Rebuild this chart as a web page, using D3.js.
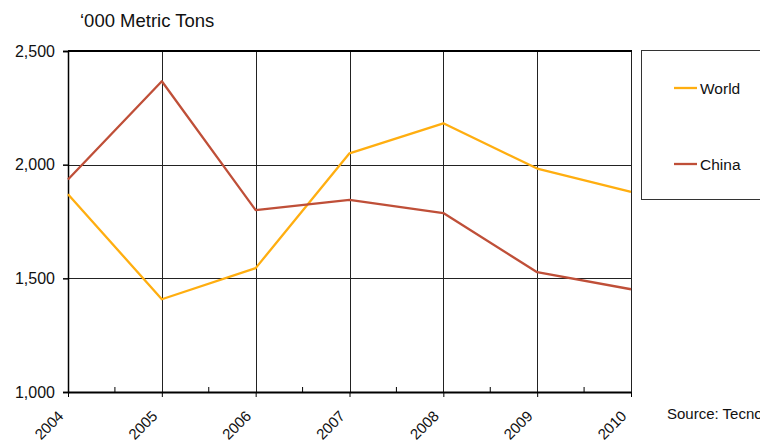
<!DOCTYPE html>
<html>
<head>
<meta charset="utf-8">
<script src="https://cdn.jsdelivr.net/npm/d3@7"></script>
<style>
html,body{margin:0;padding:0;background:#fff;overflow:hidden;}
text{font-family:"Liberation Sans",Arial,sans-serif;fill:#111;}
</style>
</head>
<body>
<svg id="chart" width="760" height="447"></svg>
<script>
const years = [2004, 2005, 2006, 2007, 2008, 2009, 2010];
const world = [1870, 1408, 1545, 2050, 2182, 1983, 1880];
const china = [1935, 2367, 1800, 1845, 1787, 1527, 1452];
const yTicks = [1000, 1500, 2000, 2500];
const seriesNames = ["World", "China"];
const seriesColors = ["#FFAE10", "#BF4F38"];
const unitLabel = "\u2018000 Metric Tons";
const sourceLabel = "Source: Tecnon OrbiChem";

(function () {
const svg = d3.select("#chart");
const pL = 68, pR = 631, pT = 51, pB = 392;

const x = d3.scaleLinear().domain([2004, 2010]).range([pL, pR]);
const y = d3.scaleLinear().domain([1000, 2500]).range([pB, pT]);

// gridlines
const g = svg.append("g");
g.selectAll("line.hg").data(yTicks.filter(v => v > 1000 && v < 2500)).enter()
  .append("line").attr("class", "hg")
  .attr("x1", pL).attr("x2", pR)
  .attr("y1", d => Math.round(y(d)) + 0.5).attr("y2", d => Math.round(y(d)) + 0.5)
  .attr("stroke", "#222").attr("stroke-width", 1);
g.selectAll("line.vg").data(years.slice(1)).enter()
  .append("line").attr("class", "vg")
  .attr("x1", d => Math.round(x(d)) + 0.5).attr("x2", d => Math.round(x(d)) + 0.5)
  .attr("y1", pT).attr("y2", pB)
  .attr("stroke", "#222").attr("stroke-width", 1);
// top border
g.append("line").attr("x1", pL).attr("x2", pR + 1)
  .attr("y1", y(2500)).attr("y2", y(2500))
  .attr("stroke", "#000").attr("stroke-width", 2);

// y axis
const yAxis = svg.append("g").attr("transform", `translate(${pL},0)`)
  .call(d3.axisLeft(y).tickValues(yTicks).tickSize(5).tickPadding(8).tickFormat(d3.format(",")));
yAxis.select(".domain").attr("stroke", "#000").attr("stroke-width", 1.5);
yAxis.selectAll(".tick line").attr("stroke", "#000").attr("stroke-width", 1.5);
yAxis.selectAll("text").style("font-size", "16px").attr("fill", "#111");

// x axis with major ticks down and minor ticks up
const xAxis = svg.append("g").attr("transform", `translate(0,${pB})`)
  .call(d3.axisBottom(x).tickValues(years).tickSize(5).tickSizeOuter(0).tickFormat(d3.format("d")));
xAxis.select(".domain").attr("stroke", "#000").attr("stroke-width", 2);
xAxis.selectAll(".tick line").attr("stroke", "#000").attr("stroke-width", 1);
xAxis.selectAll("text")
  .style("font-size", "15px")
  .attr("text-anchor", "end")
  .attr("x", 0).attr("y", 0).attr("dy", "0")
  .attr("transform", "translate(-4,25) rotate(-45)");
const minor = d3.range(years.length - 1).map(i => (years[i] + years[i + 1]) / 2);
svg.append("g").selectAll("line").data(minor).enter().append("line")
  .attr("x1", d => x(d)).attr("x2", d => x(d))
  .attr("y1", pB - 5).attr("y2", pB)
  .attr("stroke", "#000").attr("stroke-width", 1);

// lines
const line = d3.line().x((d, i) => x(years[i])).y(d => y(d));
[world, china].forEach((s, i) => {
  svg.append("path").datum(s).attr("d", line)
    .attr("fill", "none").attr("stroke", seriesColors[i])
    .attr("stroke-width", 2.3).attr("stroke-linejoin", "round");
});

// title
svg.append("text").attr("x", 80).attr("y", 27).style("font-size", "18.5px").text(unitLabel);

// legend
svg.append("rect").attr("x", 641.5).attr("y", 50.5).attr("width", 130).attr("height", 149)
  .attr("fill", "#fff").attr("stroke", "#333").attr("stroke-width", 1);
const legY = [88, 164];
seriesNames.forEach((n, i) => {
  svg.append("line").attr("x1", 674).attr("x2", 697).attr("y1", legY[i]).attr("y2", legY[i])
    .attr("stroke", seriesColors[i]).attr("stroke-width", 2.3);
  svg.append("text").attr("x", 700).attr("y", legY[i] + 5.5).style("font-size", "15.5px").text(n);
});

// source
svg.append("text").attr("x", 667).attr("y", 419).style("font-size", "15px").text(sourceLabel);
})();
</script>
</body>
</html>
